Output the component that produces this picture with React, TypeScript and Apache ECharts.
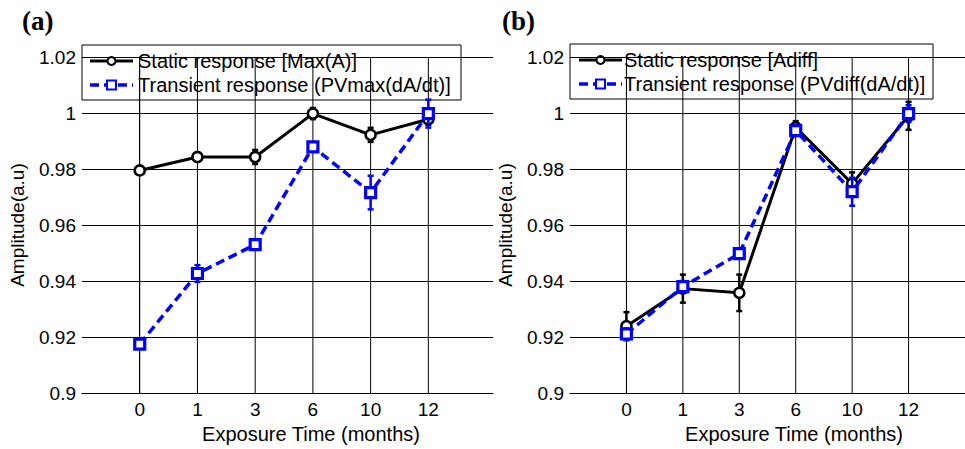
import React, { useEffect, useRef } from "react";
import * as echarts from "echarts";

const categories = ["0", "1", "3", "6", "10", "12"];
const yTicks = [0.9, 0.92, 0.94, 0.96, 0.98, 1, 1.02];

// Panel (a)
const aStatic = [0.9795, 0.9843, 0.9843, 0.9998, 0.9922, 0.9978];
const aStaticErr = [0.001, 0.0015, 0.0025, 0.002, 0.0025, 0.002];
const aTransient = [0.9175, 0.9427, 0.953, 0.9879, 0.9716, 0.9998];
const aTransientErr = [0.0015, 0.003, 0.001, 0.0015, 0.006, 0.005];

// Panel (b)
const bStatic = [0.9239, 0.9373, 0.9358, 0.9949, 0.9748, 0.999];
const bStaticErr = [0.005, 0.005, 0.0065, 0.0022, 0.004, 0.005];
const bTransient = [0.9211, 0.938, 0.9498, 0.9937, 0.9719, 0.9998];
const bTransientErr = [0.002, 0.002, 0.001, 0.0015, 0.005, 0.003];

const aNames = ["Static response [Max(A)]", "Transient response (PVmax(dA/dt)]"];
const bNames = ["Static response [Adiff]", "Transient response (PVdiff(dA/dt)]"];

const BLUE = "#0000ff";
const FONT = "'Liberation Sans', Arial, sans-serif";
const FS = 19;
const LFS = 20;

function pts(vals: number[]) {
  return vals.map((v, i) => [i, v]);
}
function errData(vals: number[], errs: number[]) {
  return vals.map((v, i) => [i, v - errs[i], v + errs[i]]);
}

function errorSeries(idx: number, vals: number[], errs: number[], color: string, z: number) {
  return {
    type: "custom",
    xAxisIndex: idx,
    yAxisIndex: idx,
    z,
    silent: true,
    data: errData(vals, errs),
    renderItem: (params: any, api: any) => {
      const x = api.value(0);
      const lo = api.coord([x, api.value(1)]);
      const hi = api.coord([x, api.value(2)]);
      const cap = 3;
      const style = { stroke: color, lineWidth: 2.5 };
      return {
        type: "group",
        children: [
          { type: "line", shape: { x1: lo[0], y1: lo[1], x2: hi[0], y2: hi[1] }, style },
          { type: "line", shape: { x1: lo[0] - cap, y1: lo[1], x2: lo[0] + cap, y2: lo[1] }, style },
          { type: "line", shape: { x1: hi[0] - cap, y1: hi[1], x2: hi[0] + cap, y2: hi[1] }, style },
        ],
      };
    },
  };
}

function vGridSeries(idx: number) {
  return {
    type: "custom",
    xAxisIndex: idx,
    yAxisIndex: idx,
    z: 1,
    silent: true,
    data: categories.map((_, i) => [i]),
    renderItem: (params: any, api: any) => {
      const x = api.value(0);
      const p1 = api.coord([x, yTicks[0]]);
      const p2 = api.coord([x, yTicks[yTicks.length - 1]]);
      return {
        type: "line",
        shape: { x1: p1[0], y1: p1[1], x2: p2[0], y2: p2[1] },
        style: { stroke: "#000", lineWidth: 1 },
      };
    },
  };
}

function staticSeries(idx: number, name: string, vals: number[]) {
  return {
    type: "line",
    name,
    xAxisIndex: idx,
    yAxisIndex: idx,
    z: 3,
    data: pts(vals),
    symbol: "circle",
    symbolSize: 10,
    lineStyle: { color: "#000", width: 3 },
    itemStyle: { color: "#fff", borderColor: "#000", borderWidth: 2.5 },
  };
}

function transientSeries(idx: number, name: string, vals: number[]) {
  return {
    type: "line",
    name,
    xAxisIndex: idx,
    yAxisIndex: idx,
    z: 5,
    data: pts(vals),
    symbol: "rect",
    symbolSize: 10,
    lineStyle: { color: BLUE, width: 3.5, type: [9, 5] },
    itemStyle: { color: "#fff", borderColor: BLUE, borderWidth: 3.2 },
  };
}

function xAxis(idx: number, max: number, padLeft: number) {
  return {
    type: "value",
    gridIndex: idx,
    min: -1,
    max,
    interval: 1,
    axisLine: { show: true, onZero: false, lineStyle: { color: "#000", width: 1 } },
    axisTick: { show: false },
    splitLine: { show: false },
    axisLabel: {
      color: "#000",
      fontFamily: FONT,
      fontSize: FS,
      margin: 7,
      showMaxLabel: false,
      formatter: (v: number) =>
        Number.isInteger(v) && v >= 0 && v < categories.length ? categories[v] : "",
    },
    name: "Exposure Time (months)",
    nameLocation: "middle",
    nameGap: 27,
    nameTextStyle: { color: "#000", fontFamily: FONT, fontSize: LFS, padding: [0, 0, 0, padLeft] },
  };
}

function yAxis(idx: number) {
  return {
    type: "value",
    gridIndex: idx,
    min: yTicks[0],
    max: yTicks[yTicks.length - 1],
    interval: 0.02,
    axisLine: { show: true, lineStyle: { color: "#000", width: 1 } },
    axisTick: { show: false },
    splitLine: { show: true, lineStyle: { color: "#000", width: 1, type: "solid" } },
    axisLabel: {
      color: "#000",
      fontFamily: FONT,
      fontSize: FS,
      margin: 6,
      formatter: (v: number) => String(parseFloat(v.toFixed(2))),
    },
    name: "Amplitude(a.u)",
    nameLocation: "middle",
    nameGap: 55,
    nameTextStyle: { color: "#000", fontFamily: FONT, fontSize: FS },
  };
}

function legendBox(x: number, y: number, w: number, h: number, lineX: number, textX: number, names: string[]) {
  const row1 = y + 16;
  const row2 = y + 40;
  const mx = lineX + 21.5;
  return {
    type: "group",
    z: 100,
    children: [
      { type: "rect", shape: { x, y, width: w, height: h }, style: { fill: "#fff", stroke: "#000", lineWidth: 1 } },
      { type: "line", shape: { x1: lineX, y1: row1, x2: lineX + 43, y2: row1 }, style: { stroke: "#000", lineWidth: 3 } },
      { type: "circle", shape: { cx: mx, cy: row1, r: 4 }, style: { fill: "#fff", stroke: "#000", lineWidth: 2 } },
      { type: "text", x: textX, y: row1, style: { text: names[0], fill: "#000", font: `${LFS}px ${FONT}`, verticalAlign: "middle" } },
      { type: "line", shape: { x1: lineX, y1: row2, x2: lineX + 43, y2: row2 }, style: { stroke: BLUE, lineWidth: 3.5, lineDash: [9, 5] } },
      { type: "rect", shape: { x: mx - 4.5, y: row2 - 4.5, width: 9, height: 9 }, style: { fill: "#fff", stroke: BLUE, lineWidth: 2 } },
      { type: "text", x: textX, y: row2, style: { text: names[1], fill: "#000", font: `${LFS}px ${FONT}`, verticalAlign: "middle" } },
    ],
  };
}

export default function App() {
  const ref = useRef<HTMLDivElement>(null);
  useEffect(() => {
    if (!ref.current) return;
    const chart = echarts.init(ref.current, undefined, { renderer: "svg" });
    chart.setOption({
      animation: false,
      backgroundColor: "#fff",
      grid: [
        { left: 82, top: 57, width: 411, height: 340 },
        { left: 570, top: 57, width: 395, height: 340 },
      ],
      xAxis: [xAxis(0, 6.12, 47), xAxis(1, 6, 53)],
      yAxis: [yAxis(0), yAxis(1)],
      series: [
        vGridSeries(0),
        errorSeries(0, aStatic, aStaticErr, "#000", 2),
        staticSeries(0, aNames[0], aStatic),
        errorSeries(0, aTransient, aTransientErr, BLUE, 4),
        transientSeries(0, aNames[1], aTransient),
        vGridSeries(1),
        errorSeries(1, bStatic, bStaticErr, "#000", 2),
        staticSeries(1, bNames[0], bStatic),
        errorSeries(1, bTransient, bTransientErr, BLUE, 4),
        transientSeries(1, bNames[1], bTransient),
      ],
      graphic: [
        { type: "text", left: 22, top: 7, style: { text: "(a)", fill: "#000", font: "bold 27px 'Liberation Serif', 'Times New Roman', serif" } },
        { type: "text", left: 502, top: 7, style: { text: "(b)", fill: "#000", font: "bold 27px 'Liberation Serif', 'Times New Roman', serif" } },
        legendBox(82, 45, 379, 55, 90, 138, aNames),
        legendBox(570, 44, 363, 55, 579, 624, bNames),
      ],
    });
    return () => chart.dispose();
  }, []);
  return <div ref={ref} style={{ position: "fixed", left: 0, top: 0, width: 965, height: 449 }} />;
}
